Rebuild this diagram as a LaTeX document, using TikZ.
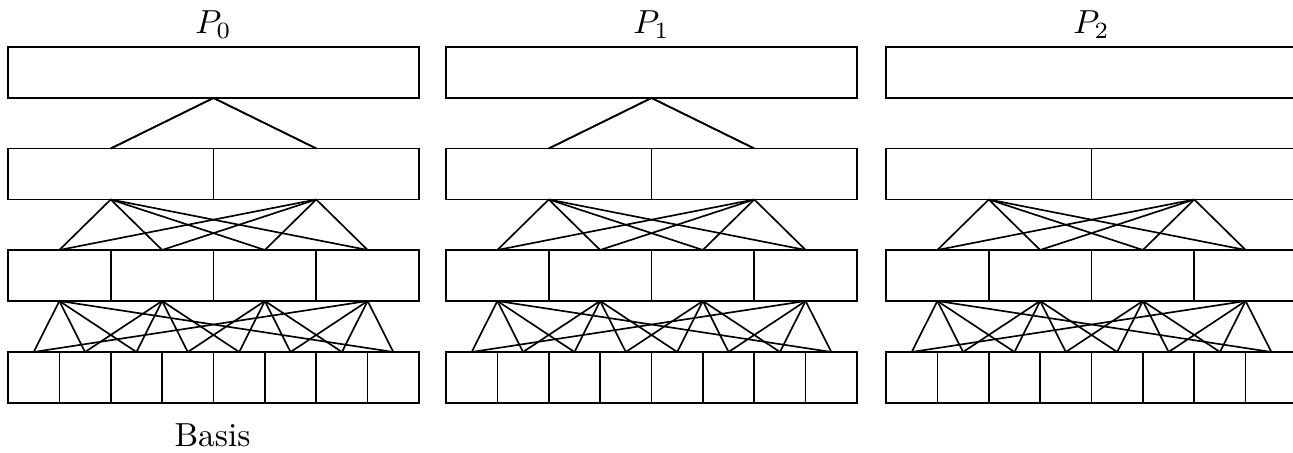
\documentclass[tikz,border=0pt]{standalone}
\begin{document}
\begin{tikzpicture}[x=0.3pt,y=-0.3pt,
  cell/.style={draw, line width=0.5pt, inner sep=0pt, outer sep=0pt, anchor=north west},
  link/.style={line width=0.5pt},
  title/.style={inner sep=0pt, anchor=base}]
\useasboundingbox (0,0) rectangle (1293,453);
\clip (0,0) rectangle (1293,453);
\foreach \p/\xl in {0/8, 1/446, 2/886} {
  \node[title] (t\p) at (\xl+205.5, 34) {$P_\p$};
  \foreach \l/\n/\y in {0/1/47, 1/2/148.5, 2/4/250, 3/8/352} {
    \pgfmathsetmacro\bw{411/\n}
    \pgfmathsetmacro\bwpt{\bw*0.3}
    \pgfmathtruncatemacro\last{\n-1}
    \foreach \k in {0,...,\last} {
      \node[cell, minimum width=\bwpt pt, minimum height=15.3pt] (b\p-\l-\k) at (\xl+\k*\bw, \y) {};
    }
  }
  \foreach \l/\n in {0/1, 1/2, 2/4} {
    \pgfmathtruncatemacro\skip{(\p==2)&&(\l==0)}
    \ifnum\skip=0
      \pgfmathtruncatemacro\nx{\l+1}
      \pgfmathtruncatemacro\m{2*\n}
      \pgfmathtruncatemacro\last{\n-1}
      \foreach \k in {0,...,\last} {
        \foreach \d in {-1,0,1,2} {
          \pgfmathtruncatemacro\j{mod(2*\k+\d+\m,\m)}
          \draw[link] (b\p-\l-\k.south) -- (b\p-\nx-\j.north);
        }
      }
    \fi
  }
}
\node[title] (basis) at (212.5, 447) {Basis};
\end{tikzpicture}
\end{document}
